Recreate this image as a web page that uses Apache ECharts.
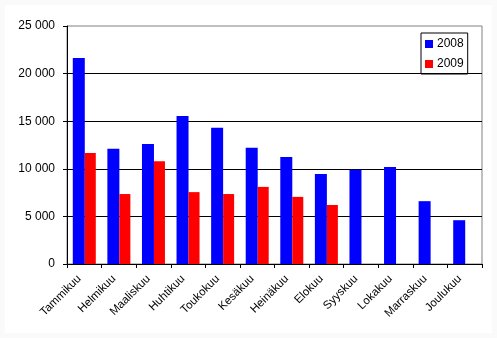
<!DOCTYPE html>
<html><head><meta charset="utf-8">
<script src="https://cdn.jsdelivr.net/npm/echarts@6/dist/echarts.min.js"></script>
<style>html,body{margin:0;padding:0;background:#fff}#c{width:497px;height:338px}</style>
</head><body><div id="c"></div>
<script>
const categories = ['Tammikuu','Helmikuu','Maaliskuu','Huhtikuu','Toukokuu','Kesäkuu','Heinäkuu','Elokuu','Syyskuu','Lokakuu','Marraskuu','Joulukuu'];
const s2008 = [21650, 12100, 12600, 15550, 14300, 12200, 11250, 9450, 9900, 10200, 6600, 4600];
const s2009 = [11650, 7350, 10800, 7550, 7350, 8100, 7050, 6200, null, null, null, null];
const seriesNames = ['2008','2009'];
const yTicks = {min:0, max:25000, interval:5000};

const chart = echarts.init(document.getElementById('c'), null, {renderer:'canvas'});
const font = 'Liberation Sans, Arial, sans-serif';
chart.setOption({
  animation:false,
  backgroundColor:'#fafafa',
  graphic:[{type:'rect', z:-10, shape:{x:5,y:5,width:487,height:328}, style:{fill:'#fff', stroke:'none'}, silent:true}],
  grid:{left:67, right:15, top:26, bottom:74, show:true, borderColor:'#808080', borderWidth:1, backgroundColor:'transparent'},
  legend:{
    orient:'vertical', left:421, top:33, data:seriesNames,
    itemWidth:8, itemHeight:8, itemGap:8, icon:'rect',
    borderColor:'#000', borderWidth:1, padding:[5,4,4,4],
    textStyle:{fontFamily:font, fontSize:12, color:'#000', padding:[0,0,0,-1]}
  },
  xAxis:{
    type:'category', data:categories,
    axisLine:{lineStyle:{color:'#000', width:1}},
    axisTick:{show:true, alignWithLabel:false, length:4, lineStyle:{color:'#000'}},
    axisLabel:{rotate:45, fontFamily:font, fontSize:11.5, color:'#000', margin:8, padding:[0,7,0,0], interval:0}
  },
  yAxis:{
    type:'value', min:yTicks.min, max:yTicks.max, interval:yTicks.interval,
    axisLine:{show:true, lineStyle:{color:'#000', width:1}},
    axisTick:{show:true, length:4, lineStyle:{color:'#000'}},
    axisLabel:{fontFamily:font, fontSize:12, color:'#000', margin:12,
      formatter:v => String(v).replace(/\B(?=(\d{3})+(?!\d))/g,' ')},
    splitLine:{show:true, showMaxLine:false, lineStyle:{color:'#000', width:1}}
  },
  series:[
    {name:seriesNames[0], type:'bar', data:s2008, barWidth:12, barGap:'0%', itemStyle:{color:'#0000ff'}},
    {name:seriesNames[1], type:'bar', data:s2009, barWidth:11, barGap:'0%', itemStyle:{color:'#ff0000'}}
  ]
});
</script></body></html>
